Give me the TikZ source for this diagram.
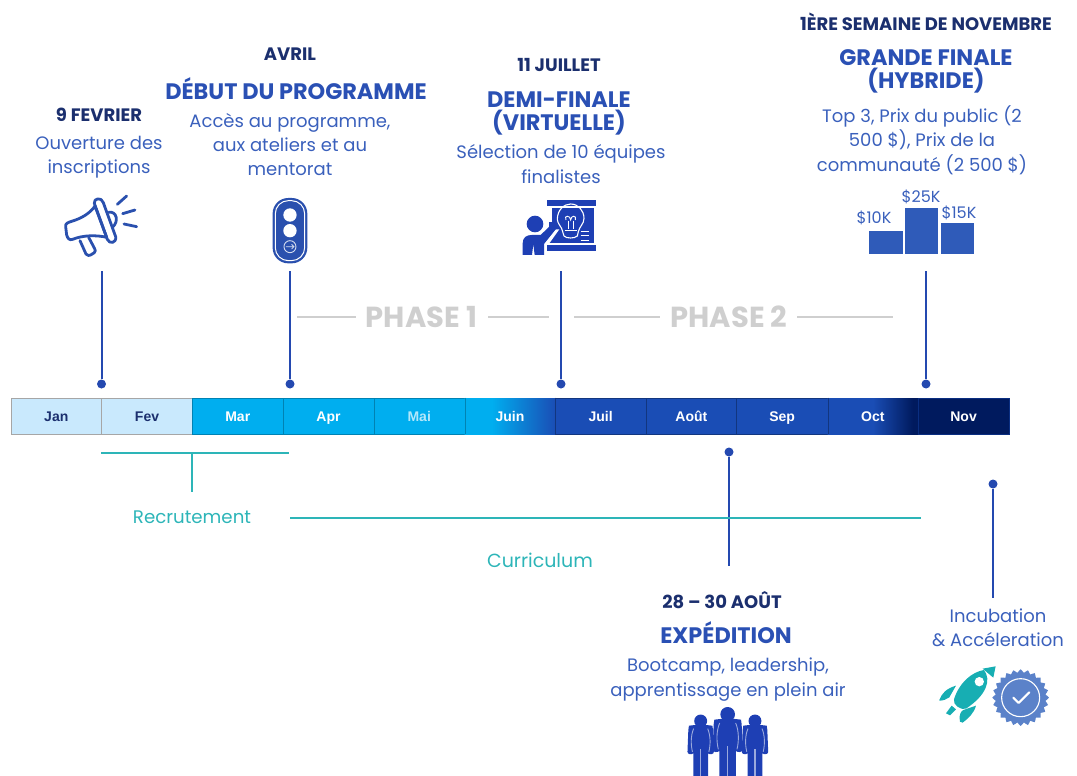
\documentclass[tikz,border=0pt]{standalone}
\usepackage{fontspec}
\setmainfont{Poppins}
\newfontfamily\arialf{Liberation Sans}
\usetikzlibrary{calc}
\definecolor{navy}{HTML}{1B2F6E}
\definecolor{tblue}{HTML}{2A50B4}
\definecolor{bodyblue}{HTML}{3A60BC}
\definecolor{iconblue}{HTML}{2A50AE}
\definecolor{solidblue}{HTML}{1E3FB4}
\definecolor{barblue}{HTML}{2F5BB9}
\definecolor{linkblue}{HTML}{2449B0}
\definecolor{teal}{HTML}{2DB5B8}
\definecolor{rocket}{HTML}{17AEB3}
\definecolor{badge}{HTML}{5B82C9}
\definecolor{phasegray}{HTML}{CFCFCF}
\definecolor{pale}{HTML}{C9E9FD}
\definecolor{sky}{HTML}{00AEEF}
\definecolor{royal}{HTML}{1A4DB5}
\definecolor{deep}{HTML}{001A5E}
\pgfdeclarehorizontalshading{juinshade}{100bp}{color(0bp)=(sky);color(25bp)=(sky);color(40bp)=(sky);color(75bp)=(royal);color(100bp)=(royal)}
\pgfdeclarehorizontalshading{octshade}{100bp}{color(0bp)=(royal);color(25bp)=(royal);color(50bp)=(royal);color(72bp)=(deep);color(100bp)=(deep)}
\tikzset{
  datetxt/.style={text=navy,font=\bfseries\fontsize{18}{20}\selectfont,inner sep=0pt},
  titletxt/.style={text=tblue,align=center,font=\bfseries\fontsize{22.4}{23.5}\selectfont,inner sep=0pt},
  bodytxt/.style={text=bodyblue,align=center,font=\fontsize{18}{24.4}\selectfont,inner sep=0pt},
  prize/.style={text=bodyblue,font=\fontsize{16}{18}\selectfont,inner sep=0pt},
  tealtxt/.style={text=teal,font=\fontsize{18.2}{20}\selectfont,inner sep=0pt},
  phasetxt/.style={text=phasegray,font=\bfseries\fontsize{29}{32}\selectfont,inner sep=0pt},
  cell/.style={minimum width=90.73pt,minimum height=36pt,inner sep=0pt,line width=.7pt,text height=11.5pt,text depth=1.5pt,
     font=\arialf\bfseries\fontsize{14}{16}\selectfont},
  mpale/.style={cell,draw=gray!70,fill=pale,text=navy},
  msky/.style={cell,draw=sky!75!black,fill=sky,text=white},
  mskyb/.style={cell,draw=sky!75!black,fill=sky,text=white!70!sky},
  mjuin/.style={cell,shading=juinshade,text=white},
  mroyal/.style={cell,draw=royal!70!black,fill=royal,text=white},
  moct/.style={cell,shading=octshade,text=white},
  mdeep/.style={cell,draw=royal!40!deep,fill=deep,text=white},
  dot/.style={circle,fill=linkblue,inner sep=0pt,minimum size=9pt},
  link/.style={draw=linkblue,line width=2pt},
  phaseline/.style={draw=phasegray,line width=2.5pt},
  tealline/.style={draw=teal,line width=1.6pt},
}
\begin{document}
\begin{tikzpicture}[x=1pt,y=-1pt]
\useasboundingbox (0,0) rectangle (1077,776);
% months
\foreach \n/\lab/\i/\st in {jan/Jan/0/mpale,fev/Fev/1/mpale,
   mar/Mar/2/msky,apr/Apr/3/msky,mai/Mai/4/mskyb,
   juin/Juin/5/mjuin,juil/Juil/6/mroyal,aout/Août/7/mroyal,
   sep/Sep/8/mroyal,oct/Oct/9/moct,nov/Nov/10/mdeep}{
  \node[\st] (\n) at ({56.3+\i*90.73},416) {\lab};
}
\draw[sky!75!black,line width=.7pt] (mai.north east) -- (mai.south east);
\draw[royal!70!black,line width=.7pt] (juin.north east) -- (juin.south east);
\draw[royal!70!black,line width=.7pt] (sep.north east) -- (sep.south east);
% text blocks
\node[datetxt] (d1) at (99,115) {9 FEVRIER};
\node[bodytxt] (b1) at (99,157) {Ouverture des\\inscriptions};
\node[datetxt] (d2) at (290,54) {AVRIL};
\node[titletxt] (t2) at (296,89) {DÉBUT DU PROGRAMME};
\node[bodytxt] (b2) at (290,144.5) {Accès au programme,\\aux ateliers et au\\mentorat};
\node[datetxt] (d3) at (559,65) {11 JUILLET};
\node[titletxt] (t3) at (559,113.5) {DEMI-FINALE\\(VIRTUELLE)};
\node[bodytxt] (b3) at (561,164) {Sélection de 10 équipes\\finalistes};
\node[datetxt] (d4) at (926,21.5) {1ÈRE SEMAINE DE NOVEMBRE};
\node[titletxt] (t4) at (926,71.5) {GRANDE FINALE\\(HYBRIDE)};
\node[bodytxt] (b4) at (922,140) {Top 3, Prix du public (2\\500 \$), Prix de la\\communauté (2 500 \$)};
\node[datetxt] (d5) at (722,600) {28 – 30 AOÛT};
\node[titletxt] (t5) at (726,632.5) {EXPÉDITION};
\node[bodytxt] (b5) at (728,679.5) {Bootcamp, leadership,\\apprentissage en plein air};
\node[bodytxt] (b6) at (998,628) {Incubation\\\& Accéleration};
\node[tealtxt] (rec) at (192,517) {Recrutement};
\node[tealtxt,font=\fontsize{19}{22}\selectfont] (cur) at (540,560) {Curriculum};
% phases
\node[phasetxt] (p1) at (421.5,317) {PHASE 1};
\node[phasetxt] (p2) at (729,317) {PHASE 2};
\coordinate (p1a) at (297,317); \coordinate (p1b) at (549,317);
\coordinate (p2a) at (574,317); \coordinate (p2b) at (893,317);
\draw[phaseline] (p1a) -- (356,317);
\draw[phaseline] (488,317) -- (p1b);
\draw[phaseline] (p2a) -- (660,317);
\draw[phaseline] (797,317) -- (p2b);
% top links
\foreach \n/\x in {a/101.5,b/290,c/561,d/926}{
  \coordinate (top\n) at (\x,271);
  \node[dot] (dot\n) at (\x,384) {};
  \draw[link] (top\n) -- (dot\n);
}
% bottom links
\node[dot] (dote) at (729,452) {};
\coordinate (ende) at (729,566);
\draw[link] (dote) -- (ende);
\node[dot] (dotf) at (993,484) {};
\coordinate (endf) at (993,598);
\draw[link] (dotf) -- (endf);
% teal lines
\coordinate (ra) at (101,453); \coordinate (rb) at (289,453); \coordinate (rm) at (192,453);
\coordinate (rs) at (192,492);
\draw[tealline] (ra) -- (rb);
\draw[tealline] (rm) -- (rs);
\coordinate (ca) at (290,518); \coordinate (cb) at (921,518);
\draw[tealline] (ca) -- (cb);
% megaphone
\begin{scope}[shift={(0,180)},x=.3333pt,y=-.3333pt,draw=iconblue,line width=2.8pt,line join=round,line cap=round]
\draw (197,140) .. controls (195,130) and (205,127) .. (215,124) .. controls (245,115) and (270,100) .. (285,78)
  -- (320,172) .. controls (290,165) and (250,165) .. (218,178) .. controls (208,182) and (203,175) .. (200,165) -- cycle;
\draw (283,70) .. controls (280,55) and (305,50) .. (310,68) -- (347,170) .. controls (350,190) and (328,193) .. (322,178) -- cycle;
\draw (240,182) -- (258,222) .. controls (262,228) and (268,227) .. (272,225) -- (283,218) .. controls (287,214) and (286,210) .. (284,206) -- (266,172);
\draw (326,97) .. controls (350,92) and (358,125) .. (337,142);
\draw (352,73) -- (380,48);
\draw (368,101) -- (405,90);
\draw (372,132) -- (410,140);
\end{scope}
% traffic light
\begin{scope}[shift={(0,180)},x=.3333pt,y=-.3333pt]
\fill[iconblue,rounded corners=15.5pt] (818,54) rectangle (922,250);
\draw[white,line width=1pt,rounded corners=13pt] (826,62) rectangle (914,242);
\fill[white] (870,105) circle[radius=20];
\fill[white] (870,152) circle[radius=20];
\draw[white!80!iconblue,line width=.9pt] (870,200) circle[radius=18];
\draw[white!80!iconblue,line width=.8pt] (858,200) -- (882,200) (875,193) -- (882,200) -- (875,207);
\end{scope}
% presenter
\begin{scope}[shift={(500,180)},x=.3333pt,y=-.3333pt]
\fill[solidblue] (140,60) rectangle (287,78);
\fill[solidblue] (140,195) rectangle (287,213);
\fill[solidblue] (148,84) rectangle (282,190);
\fill[white] (148,84) rectangle (156,125);
\fill[white] (148,148) -- (135,190) -- (148,190) -- (178,148) -- cycle;
\draw[white,line width=1.1pt] (172,118) .. controls (172,90) and (192,72) .. (212,72) .. controls (235,72) and (252,92) .. (252,115) .. controls (252,132) and (238,140) .. (235,155) -- (232,168) .. controls (225,176) and (198,176) .. (192,168) -- (188,155) .. controls (186,140) and (172,132) .. (172,118) -- cycle;
\draw[white,line width=.9pt] (198,120) .. controls (190,105) and (212,105) .. (212,120) .. controls (212,105) and (232,105) .. (226,120);
\draw[white,line width=.9pt] (205,122) -- (205,148) (219,122) -- (219,148) (194,150) -- (230,150);
\draw[white,line width=1pt] (242,155) -- (268,155) (242,168) -- (268,168) (242,181) -- (268,181);
\fill[solidblue] (105,132) circle[radius=25];
\fill[solidblue] (68,225) -- (68,190) .. controls (68,172) and (80,165) .. (95,165) -- (122,165) -- (160,128) .. controls (170,122) and (178,132) .. (172,142) -- (132,192) -- (132,225) -- (104,225) -- (100,192) -- (96,225) -- cycle;
\end{scope}
% prize bars
\begin{scope}[shift={(500,180)},x=.3333pt,y=-.3333pt]
\fill[barblue] (1108,152) rectangle (1208,223);
\fill[barblue] (1215,85) rectangle (1315,223);
\fill[barblue] (1323,128) rectangle (1423,223);
\end{scope}
\node[prize] (pa) at (874,218) {\$10K};
\node[prize] (pb) at (921,197) {\$25K};
\node[prize] (pc) at (959,213) {\$15K};
% rocket
\begin{scope}[shift={(670,660)},x=.3333pt,y=-.3333pt]
\fill[rocket] (852,118) .. controls (868,68) and (905,36) .. (942,30) .. controls (965,60) and (950,105) .. (888,146) .. controls (875,152) and (847,135) .. (852,118) -- cycle;
\fill[rocket] (938,26) -- (977,19) -- (970,53) -- cycle;
\fill[rocket] (808,120) .. controls (815,100) and (830,85) .. (858,77) -- (838,112) .. controls (830,118) and (820,122) .. (808,122) -- cycle;
\fill[rocket] (870,185) .. controls (866,165) and (872,155) .. (880,150) -- (918,137) .. controls (912,160) and (895,175) .. (878,188) -- cycle;
\fill[rocket] (828,160) -- (845,137) -- (858,148) -- (840,166) -- cycle;
\fill[white] (928,65) circle[radius=14];
% badge
\fill[badge] plot[smooth cycle,samples=96,domain=0:356.25,variable=\t] ({1052+(80+5*cos(24*\t))*cos(\t)},{113+(80+5*cos(24*\t))*sin(\t)});
\draw[white,line width=1.1pt] (1052,113) circle[radius=57];
\draw[white,line width=2pt,line cap=round,line join=round] (1030,113) -- (1046,129) -- (1078,97);
\end{scope}
% hikers
\begin{scope}[shift={(670,660)},x=.3333pt,y=-.3333pt]
\foreach \cx/\cy/\s in {92/183/.88,255/183/.88,173/163/1}{
 \begin{scope}[shift={(\cx,\cy)},x=.3333*\s pt,y=-.3333*\s pt]
  \fill[solidblue] (0,0) circle[radius=22];
  \fill[solidblue] (-22,14) -- (-40,16) -- (-42,30) -- (-45,105) .. controls (-45,115) and (-30,115) .. (-25,110) -- (-25,190) -- (25,190) -- (25,110) .. controls (30,115) and (45,115) .. (45,105) -- (42,30) -- (40,16) -- (22,14) -- cycle;
  \draw[white!55!solidblue,line width=1.1pt] (0,95) -- (0,190);
  \draw[white!55!solidblue,line width=.9pt] (-24,26) .. controls (-34,50) and (-34,80) .. (-28,105) (24,26) .. controls (34,50) and (34,80) .. (28,105);
 \end{scope}
}
\end{scope}
\end{tikzpicture}
\end{document}
